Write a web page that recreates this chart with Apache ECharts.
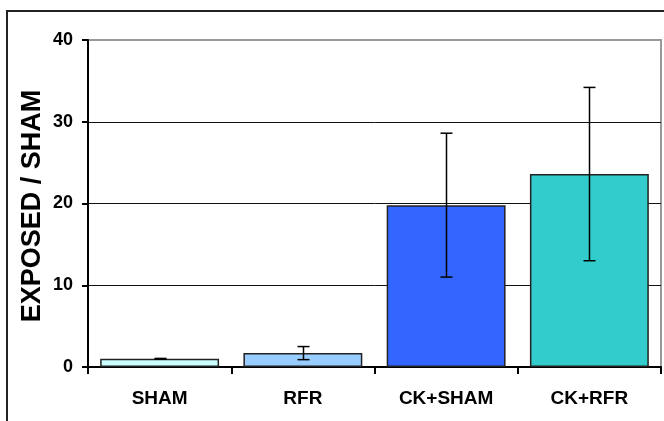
<!DOCTYPE html>
<html>
<head>
<meta charset="utf-8">
<script src="https://cdn.jsdelivr.net/npm/echarts@6/dist/echarts.min.js"></script>
<style>
html,body{margin:0;padding:0;background:#fff;}
#chart{width:664px;height:421px;}
</style>
</head>
<body>
<div id="chart"></div>
<script>
var categories = ['SHAM', 'RFR', 'CK+SHAM', 'CK+RFR'];
var means = [1.0, 1.7, 19.8, 23.6];
var errors = [0.05, 0.8, 8.8, 10.6];
var barColors = ['#CCFFFF', '#99CCFF', '#3366FF', '#33CCCC'];
var yTicks = [0, 10, 20, 30, 40];
var yTitle = 'EXPOSED / SHAM';

var FONT = '"Liberation Sans", Arial, sans-serif';
var chart = echarts.init(document.getElementById('chart'), null, {renderer: 'canvas'});

var errData = means.map(function (m, i) { return [i, m - errors[i], m + errors[i]]; });

chart.setOption({
  animation: false,
  backgroundColor: '#fff',
  graphic: [{
    type: 'rect',
    shape: {x: 7, y: 11, width: 900, height: 700},
    style: {fill: null, stroke: '#222', lineWidth: 2},
    silent: true,
    z: 0
  }, {
    type: 'text',
    x: 33, y: 206,
    rotation: Math.PI / 2,
    style: {
      text: yTitle,
      font: 'bold 27px ' + FONT,
      fill: '#000',
      align: 'center',
      verticalAlign: 'middle'
    },
    z: 10
  }],
  grid: {
    left: 88, top: 40, right: 3, bottom: 54,
    show: true, borderColor: '#999', borderWidth: 2, backgroundColor: 'transparent'
  },
  xAxis: {
    type: 'category',
    data: categories,
    axisLine: {show: true, lineStyle: {color: '#000', width: 2}},
    axisTick: {show: true, inside: false, length: 7, alignWithLabel: false, lineStyle: {color: '#000', width: 2}},
    axisLabel: {fontFamily: FONT, fontWeight: 'bold', fontSize: 19, color: '#000', margin: 22},
    splitLine: {show: false}
  },
  yAxis: {
    type: 'value',
    min: yTicks[0], max: yTicks[yTicks.length - 1], interval: 10,
    axisLine: {show: true, lineStyle: {color: '#000', width: 2}},
    axisTick: {show: true, inside: false, length: 6, lineStyle: {color: '#000', width: 2}},
    axisLabel: {fontFamily: FONT, fontWeight: 'bold', fontSize: 18, color: '#000', margin: 15},
    splitLine: {show: true, lineStyle: {color: ['#000', '#111', '#111', '#111', '#999'], width: 1}}
  },
  series: [{
    type: 'bar',
    data: means.map(function (v, i) {
      return {value: v, itemStyle: {color: barColors[i]}};
    }),
    barCategoryGap: '17%',
    itemStyle: {borderColor: '#222', borderWidth: 1.5},
    z: 2
  }, {
    type: 'custom',
    data: errData,
    z: 5,
    renderItem: function (params, api) {
      var x = api.value(0);
      var lo = api.coord([x, api.value(1)]);
      var hi = api.coord([x, api.value(2)]);
      var cx = Math.round(lo[0]) + 0.5;
      var hw = 6;
      var st = {stroke: '#000', lineWidth: 1.5};
      return {
        type: 'group',
        children: [
          {type: 'line', shape: {x1: cx, y1: lo[1], x2: cx, y2: hi[1]}, style: st},
          {type: 'line', shape: {x1: cx - hw, y1: lo[1], x2: cx + hw, y2: lo[1]}, style: st},
          {type: 'line', shape: {x1: cx - hw, y1: hi[1], x2: cx + hw, y2: hi[1]}, style: st}
        ]
      };
    }
  }]
});
</script>
</body>
</html>
